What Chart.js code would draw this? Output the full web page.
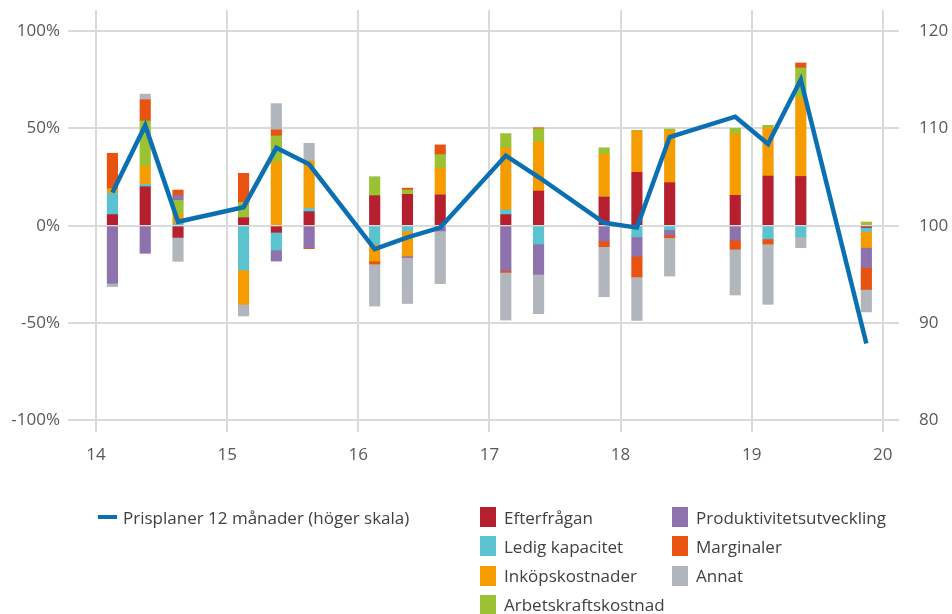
<!DOCTYPE html>
<html lang="sv">
<head>
<meta charset="utf-8">
<title>Prisplaner och bidrag</title>
<script src="https://cdn.jsdelivr.net/npm/chart.js@4.4.1/dist/chart.umd.min.js"></script>
<style>
  html, body { margin: 0; padding: 0; background: #fff; }
  #wrap { position: relative; width: 952px; height: 614px; }
  #legend { position: absolute; left: 0; top: 0; width: 952px; height: 614px; pointer-events: none;
            font-family: "Open Sans", sans-serif; font-size: 17px; color: #404040; }
  .item { position: absolute; display: flex; align-items: center; height: 20px; white-space: nowrap; }
  .box { width: 16px; height: 20px; margin-right: 8px; }
  .stroke { width: 19px; height: 4px; margin-right: 6px; }
</style>
</head>
<body>
<div id="wrap">
  <canvas id="chart" width="952" height="614"></canvas>
  <div id="legend"></div>
</div>
<script>
// Kvartal som redovisas (alla kvartal finns inte med)
const perioder = ['14K1', '14K2', '14K3', '15K1', '15K2', '15K3', '16K1', '16K2', '16K3',
                  '17K1', '17K2', '17K4', '18K1', '18K2', '18K4', '19K1', '19K2', '19K4'];

// Prisplaner 12 månader, index (höger skala)
const prisplaner = [103.4, 110.3, 100.4, 101.9, 108.0, 106.3, 97.6, 98.8, 99.8,
                    107.2, 105.0, 100.3, 99.8, 109.1, 111.2, 108.4, 115.0, 87.9];

// Bidrag i procent (vänster skala)
const efterfragan    = [5.7, 20.0, -6.0, 4.1, -3.4, 7.2, 15.4, 16.1, 15.8, 5.7, 17.8, 14.7, 27.4, 22.1, 15.6, 25.5, 25.3, -0.9];
const ledigKapacitet = [11.0, 1.2, 1.2, -22.8, -9.1, 1.7, -9.6, -2.7, 0, 2.4, -9.4, 0, -5.8, -2.1, 0, -6.8, -5.8, -2.1];
const inkop          = [2.2, 9.3, 4.6, -17.6, 32.9, 24.3, -8.6, -12.9, 13.7, 31.8, 25.2, 21.9, 21.2, 26.7, 31.5, 24.8, 40.6, -8.2];
const arbetskraft    = [0, 23.3, 7.2, 7.9, 13.2, 0, 9.6, 2.2, 7.0, 7.4, 6.8, 3.4, 0.4, 0.9, 2.9, 1.2, 15.1, 1.9];
const produktivitet  = [-29.6, -14.2, 2.6, 0, -5.7, -11.3, 0, -0.8, -2.7, -23.1, -15.6, -7.9, -9.9, -2.7, -7.5, 0, 0, -10.3];
const marginaler     = [18.3, 10.9, 2.7, 14.9, 3.1, -0.5, -1.5, 1.0, 5.0, -0.9, 0.5, -2.9, -10.6, -1.4, -4.6, -2.6, 2.6, -11.3];
const annat          = [-1.7, 2.9, -12.3, -6.0, 13.5, 9.1, -21.6, -23.6, -27.1, -24.5, -20.2, -25.7, -22.4, -19.7, -23.5, -31.0, -5.5, -11.5];

// Axeletiketter
const arTicks = [14, 15, 16, 17, 18, 19, 20];
const vansterTicks = [-100, -50, 0, 50, 100];
const hogerTicks = [80, 90, 100, 110, 120];

// '15K2' -> 15.375 (mitten av kvartalet)
function tidpunkt(p) {
  const ar = Number(p.slice(0, 2));
  const k = Number(p.slice(3));
  return ar + (k - 0.5) / 4;
}
const xs = perioder.map(tidpunkt);
const punkter = serie => serie.map((v, i) => ({ x: xs[i], y: v }));

const stapelSerier = [
  { label: 'Efterfrågan',              data: efterfragan,    color: '#b51f2e' },
  { label: 'Ledig kapacitet',          data: ledigKapacitet, color: '#5bc2d0' },
  { label: 'Inköpskostnader',          data: inkop,          color: '#f59c00' },
  { label: 'Arbetskraftskostnad',      data: arbetskraft,    color: '#9bc232' },
  { label: 'Produktivitetsutveckling', data: produktivitet,  color: '#8e72ae' },
  { label: 'Marginaler',               data: marginaler,     color: '#e8530f' },
  { label: 'Annat',                    data: annat,          color: '#b1b6bd' }
];
const linjeFarg = '#0a70b3';
const gridFarg = '#dadada';
const tickFarg = '#595959';
const font = { family: '"Open Sans", sans-serif', size: 17 };

const datasets = [
  {
    type: 'line',
    label: 'Prisplaner 12 månader (höger skala)',
    data: punkter(prisplaner),
    yAxisID: 'y2',
    borderColor: linjeFarg,
    borderWidth: 4.5,
    pointRadius: 0,
    tension: 0,
    order: 0
  }
].concat(stapelSerier.map(s => ({
  type: 'bar',
  label: s.label,
  data: punkter(s.data),
  yAxisID: 'y',
  backgroundColor: s.color,
  borderWidth: 0,
  barThickness: 10.5,
  order: 1
})));

// axlarnas egna marginaler nollas så att ritytan hamnar exakt
const utanMarginal = s => { s.paddingTop = 0; s.paddingBottom = 0; s.paddingLeft = 0; s.paddingRight = 0; };

new Chart(document.getElementById('chart'), {
  type: 'bar',
  data: { datasets },
  options: {
    responsive: false,
    animation: false,
    layout: { padding: { top: 10, bottom: 142, left: 0, right: 0 } },
    plugins: { legend: { display: false }, tooltip: { enabled: false } },
    scales: {
      x: {
        type: 'linear',
        min: 13.786,
        max: 20.124,
        offset: false,
        stacked: true,
        grid: { color: gridFarg, lineWidth: 2, drawTicks: false, offset: false },
        border: { display: false },
        ticks: { color: tickFarg, font, padding: 13 },
        afterBuildTicks: s => { s.ticks = arTicks.map(value => ({ value })); },
        afterFit: s => { s.height = 40; utanMarginal(s); }
      },
      y: {
        position: 'left',
        min: -106,
        max: 110.8,
        stacked: true,
        grid: { color: gridFarg, lineWidth: 2, drawTicks: false },
        border: { display: false },
        ticks: { color: tickFarg, font, padding: 8, callback: v => v + '%' },
        afterBuildTicks: s => { s.ticks = vansterTicks.map(value => ({ value })); },
        afterFit: s => { s.width = 68; utanMarginal(s); }
      },
      y2: {
        position: 'right',
        min: 78.8,
        max: 122.16,
        grid: { display: false },
        border: { display: false },
        ticks: { color: tickFarg, font, padding: 12 },
        afterBuildTicks: s => { s.ticks = hogerTicks.map(value => ({ value })); },
        afterFit: s => { s.width = 53; utanMarginal(s); }
      }
    }
  }
});

// Förklaring under diagrammet: linjen till vänster, staplarna i två kolumner
const legend = document.getElementById('legend');
function addItem(left, top, html) {
  const d = document.createElement('div');
  d.className = 'item';
  d.style.left = left + 'px';
  d.style.top = top + 'px';
  d.innerHTML = html;
  legend.appendChild(d);
}
addItem(98, 507, `<span class="stroke" style="background:${linjeFarg}"></span>${datasets[0].label}`);
const kolumner = [[0, 1, 2, 3], [4, 5, 6]];
const kolumnX = [480, 672];
kolumner.forEach((kol, k) => {
  kol.forEach((idx, r) => {
    const s = stapelSerier[idx];
    addItem(kolumnX[k], 507 + r * 29.3, `<span class="box" style="background:${s.color}"></span>${s.label}`);
  });
});
</script>
</body>
</html>
